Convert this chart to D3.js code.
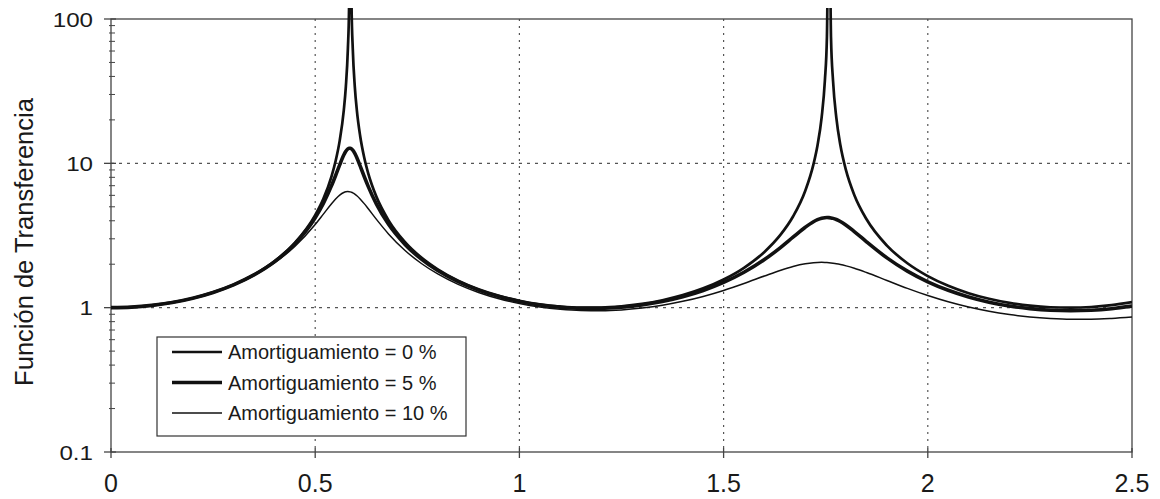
<!DOCTYPE html>
<html>
<head>
<meta charset="utf-8">
<script src="https://cdn.jsdelivr.net/npm/d3@7"></script>
<style>
  body { margin: 0; background: #fff; }
  text { font-family: "Liberation Sans", Arial, sans-serif; fill: #1a1a1a; }
</style>
</head>
<body>
<svg id="chart" width="1160" height="499"></svg>
<script>
// frecuencia normalizada (eje x)
const xValues = [0, 0.05, 0.1, 0.15, 0.2, 0.25, 0.3, 0.35, 0.4, 0.45, 0.5,
  0.52, 0.54, 0.55, 0.56, 0.57, 0.575, 0.58, 0.583, 0.586, 0.589, 0.592, 0.597, 0.602, 0.61, 0.62, 0.63, 0.65, 0.68, 0.72, 0.76, 0.8,
  0.85, 0.9, 0.95, 1.0, 1.05, 1.1, 1.15, 1.2, 1.25, 1.3, 1.35, 1.4, 1.45, 1.5, 1.55, 1.6,
  1.64, 1.67, 1.7, 1.72, 1.73, 1.74, 1.748, 1.753, 1.758, 1.763, 1.768, 1.776, 1.786, 1.8, 1.82, 1.85,
  1.9, 1.95, 2.0, 2.05, 2.1, 2.15, 2.2, 2.25, 2.3, 2.35, 2.4, 2.45, 2.5];

const damp0 = [1, 1.009, 1.037, 1.087, 1.163, 1.276, 1.442, 1.691, 2.091, 2.805, 4.377,
  5.682, 8.131, 10.38, 14.36, 23.32, 33.9, 62.1, 125, 1000, 123, 62.1, 33.9, 23.3, 15.54, 10.98, 8.494, 5.856, 4.011, 2.845, 2.223, 1.843,
  1.538, 1.341, 1.208, 1.117, 1.056, 1.019, 1.002, 1.003, 1.022, 1.062, 1.126, 1.221, 1.361, 1.568, 1.890, 2.434,
  3.216, 4.281, 6.461, 9.841, 13.35, 20.75, 37.5, 75.2, 1000, 74.1, 37.2, 20.71, 13.33, 8.892, 6.041, 4.095,
  2.691, 2.031, 1.655, 1.418, 1.260, 1.152, 1.079, 1.033, 1.007, 1.000, 1.011, 1.042, 1.094];

const damp5 = [1, 1.009, 1.037, 1.086, 1.163, 1.275, 1.439, 1.686, 2.078, 2.766, 4.200,
  5.282, 7.005, 8.240, 9.762, 11.41, 12.11, 12.58, 12.72, 12.72, 12.59, 12.34, 11.72, 10.93, 9.604, 8.107, 6.899, 5.215, 3.766, 2.743, 2.168, 1.807,
  1.515, 1.324, 1.193, 1.104, 1.044, 1.008, 0.990, 0.990, 1.008, 1.044, 1.103, 1.190, 1.315, 1.495, 1.758, 2.154,
  2.619, 3.078, 3.609, 3.940, 4.071, 4.163, 4.203, 4.211, 4.205, 4.186, 4.155, 4.080, 3.952, 3.727, 3.369, 2.859,
  2.212, 1.790, 1.510, 1.319, 1.186, 1.092, 1.027, 0.985, 0.960, 0.953, 0.960, 0.984, 1.025];

const damp10 = [1, 1.009, 1.037, 1.086, 1.161, 1.271, 1.432, 1.670, 2.040, 2.657, 3.773,
  4.449, 5.254, 5.664, 6.025, 6.278, 6.347, 6.372, 6.365, 6.340, 6.299, 6.243, 6.120, 5.964, 5.669, 5.258, 4.842, 4.088, 3.232, 2.490, 2.023, 1.712,
  1.450, 1.275, 1.153, 1.069, 1.011, 0.975, 0.956, 0.953, 0.965, 0.994, 1.039, 1.106, 1.196, 1.316, 1.470, 1.657,
  1.818, 1.930, 2.016, 2.050, 2.058, 2.060, 2.057, 2.053, 2.048, 2.041, 2.032, 2.016, 1.991, 1.948, 1.876, 1.752,
  1.543, 1.360, 1.213, 1.098, 1.010, 0.944, 0.896, 0.862, 0.841, 0.831, 0.831, 0.841, 0.860];

const seriesNames = ["Amortiguamiento = 0 %", "Amortiguamiento = 5 %", "Amortiguamiento = 10 %"];
const lineWidths = [2.7, 3.6, 1.5];
const xTicks = [0, 0.5, 1, 1.5, 2, 2.5];
const yTicks = [0.1, 1, 10, 100];
const yTitle = "Función de Transferencia";

const svg = d3.select("#chart");
const margin = {top: 19, right: 28, bottom: 47, left: 111};
const width = +svg.attr("width");
const height = +svg.attr("height");
const x = d3.scaleLinear().domain([0, 2.5]).range([margin.left, width - margin.right]);
const y = d3.scaleLog().domain([0.1, 100]).range([height - margin.bottom, margin.top]);

// rejilla punteada
svg.append("g")
  .selectAll("line")
  .data(xTicks.slice(1, -1))
  .join("line")
  .attr("x1", d => x(d)).attr("x2", d => x(d))
  .attr("y1", y(100)).attr("y2", y(0.1))
  .attr("stroke", "#555").attr("stroke-width", 1.2)
  .attr("stroke-dasharray", "2,5");
svg.append("g")
  .selectAll("line")
  .data([1, 10])
  .join("line")
  .attr("x1", x(0)).attr("x2", x(2.5))
  .attr("y1", d => y(d)).attr("y2", d => y(d))
  .attr("stroke", "#555").attr("stroke-width", 1.2)
  .attr("stroke-dasharray", "3,5");

// marco
svg.append("rect")
  .attr("x", x(0)).attr("y", y(100))
  .attr("width", x(2.5) - x(0)).attr("height", y(0.1) - y(100))
  .attr("fill", "none").attr("stroke", "#444").attr("stroke-width", 1.3);

// eje y (log)
const yMinor = [];
[0.1, 1, 10].forEach(b => { for (let k = 2; k <= 9; k++) yMinor.push(b * k); });
const yAxis = svg.append("g").attr("transform", `translate(${x(0)},0)`);
yAxis.selectAll("line.minor")
  .data(yMinor)
  .join("line")
  .attr("class", "minor")
  .attr("x1", -2).attr("x2", 4)
  .attr("y1", d => y(d)).attr("y2", d => y(d))
  .attr("stroke", "#444").attr("stroke-width", 1);
yAxis.selectAll("line.major")
  .data(yTicks)
  .join("line")
  .attr("class", "major")
  .attr("x1", -7).attr("x2", 5)
  .attr("y1", d => y(d)).attr("y2", d => y(d))
  .attr("stroke", "#444").attr("stroke-width", 1.3);
yAxis.selectAll("text")
  .data(yTicks)
  .join("text")
  .attr("x", -18)
  .attr("y", d => y(d))
  .attr("dy", "0.36em")
  .attr("text-anchor", "end")
  .style("font-size", "21px")
  .text(d => d3.format("")(d))
  .attr("lengthAdjust", "spacingAndGlyphs")
  .attr("textLength", function() { return this.getComputedTextLength() * 1.15; });

// eje x
const xAxis = svg.append("g").attr("transform", `translate(0,${y(0.1)})`);
xAxis.selectAll("line")
  .data(xTicks)
  .join("line")
  .attr("x1", d => x(d)).attr("x2", d => x(d))
  .attr("y1", -4).attr("y2", 6)
  .attr("stroke", "#444").attr("stroke-width", 1.3);
xAxis.selectAll("text")
  .data(xTicks)
  .join("text")
  .attr("x", d => x(d))
  .attr("y", 40)
  .attr("text-anchor", "middle")
  .style("font-size", "25px")
  .text(d => d3.format("")(d));

// título eje y
svg.append("text")
  .attr("transform", `translate(33,242) rotate(-90)`)
  .attr("text-anchor", "middle")
  .style("font-size", "25.5px")
  .text(yTitle);

// curvas
svg.append("clipPath").attr("id", "clip")
  .append("rect")
  .attr("x", x(0)).attr("y", y(100) - 11)
  .attr("width", x(2.5) - x(0)).attr("height", y(0.1) - y(100) + 11);

const series = [damp0, damp5, damp10].map((vals, i) => ({
  name: seriesNames[i],
  width: lineWidths[i],
  points: xValues.map((xv, j) => ({x: xv, y: vals[j]}))
}));

const line = d3.line()
  .x(d => x(d.x))
  .y(d => y(d.y))
  .curve(d3.curveMonotoneX);

svg.append("g").attr("clip-path", "url(#clip)")
  .selectAll("path")
  .data(series)
  .join("path")
  .attr("d", d => line(d.points))
  .attr("fill", "none")
  .attr("stroke", "#111")
  .attr("stroke-width", d => d.width)
  .attr("stroke-linejoin", "round");

// leyenda
const legend = svg.append("g");
legend.append("rect")
  .attr("x", 157).attr("y", 337)
  .attr("width", 309).attr("height", 99)
  .attr("fill", "#fff").attr("stroke", "#333").attr("stroke-width", 1.2);
const rows = legend.selectAll("g.row")
  .data(series)
  .join("g")
  .attr("class", "row")
  .attr("transform", (d, i) => `translate(0,${352 + i * 30.5})`);
rows.append("line")
  .attr("x1", 172).attr("x2", 222)
  .attr("stroke", "#111")
  .attr("stroke-width", d => d.width);
rows.append("text")
  .attr("x", 228)
  .attr("dy", "0.36em")
  .style("font-size", "20px")
  .text(d => d.name);
</script>
</body>
</html>
